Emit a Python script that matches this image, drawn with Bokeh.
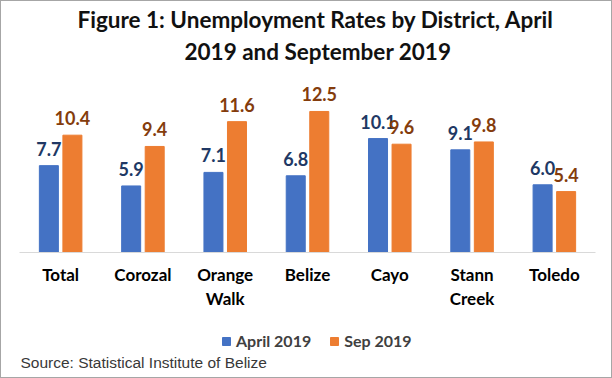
from bokeh.plotting import figure
from bokeh.layouts import column
from bokeh.core.properties import value
from bokeh.models import (Range1d, Title, Legend, LegendItem,
                          ColumnDataSource, LabelSet, LinearAxis, FixedTicker, Label)
from bokeh.transform import dodge
from bokeh.embed import file_html
from bokeh.resources import INLINE

# ---- data ----
districts = ["Total", "Corozal", "Orange Walk", "Belize", "Cayo", "Stann Creek", "Toledo"]
label_line1 = ["Total", "Corozal", "Orange", "Belize", "Cayo", "Stann", "Toledo"]
label_line2 = ["", "", "Walk", "", "", "Creek", ""]
april_2019 = [7.7, 5.9, 7.1, 6.8, 10.1, 9.1, 6.0]
sep_2019 = [10.4, 9.4, 11.6, 12.5, 9.6, 9.8, 5.4]
series_names = ["April 2019", "Sep 2019"]
title_line1 = "Figure 1: Unemployment Rates by District, April"
title_line2 = "2019 and September 2019"
source_note = "Source: Statistical Institute of Belize"

BLUE = "#4472C4"
ORANGE = "#ED7D31"
BLUE_TXT = "#203864"
ORANGE_TXT = "#843C0C"
FONT = "Lato"

n = len(districts)
centers = [i + 0.5 for i in range(n)]   # slot centre of each district on the x scale

src = ColumnDataSource(dict(
    district=districts,
    xc=centers,
    april=april_2019,
    sep=sep_2019,
    april_txt=[f"{v:.1f}" for v in april_2019],
    sep_txt=[f"{v:.1f}" for v in sep_2019],
))

W = 610
H1 = 310
BL, BR = 18, 16
p = figure(width=W, height=H1, output_backend="svg", toolbar_location=None,
           x_range=Range1d(0, n), y_range=Range1d(0, 16.31), x_axis_location=None,
           min_border_left=BL, min_border_right=BR, min_border_top=67, min_border_bottom=59)
p.background_fill_color = "white"
p.border_fill_color = "white"

off = 0.143
bw = 0.231
r1 = p.vbar(x=dodge("xc", -off), top="april", width=bw, source=src, color=BLUE)
r2 = p.vbar(x=dodge("xc", off), top="sep", width=bw, source=src, color=ORANGE)

for xo, col, txt, c in [(-off, "april", "april_txt", BLUE_TXT), (off, "sep", "sep_txt", ORANGE_TXT)]:
    p.add_layout(LabelSet(x=dodge("xc", xo), y=col, text=txt,
                          source=src, text_align="center", text_baseline="alphabetic",
                          y_offset=10, text_font=value(FONT), text_font_style=value("bold"),
                          text_font_size=value("18px"), text_color=value(c)))

def make_axis(labels, line_color, standoff):
    ax = LinearAxis(ticker=FixedTicker(ticks=centers),
                    major_label_overrides=dict(zip(centers, labels)))
    ax.axis_line_color = line_color
    ax.major_tick_line_color = None
    ax.minor_tick_line_color = None
    ax.major_tick_out = 0
    ax.major_tick_in = 0
    ax.minor_tick_out = 0
    ax.major_label_text_font = FONT
    ax.major_label_text_font_style = "bold"
    ax.major_label_text_font_size = "17px"
    ax.major_label_text_color = "#000000"
    ax.major_label_standoff = standoff
    return ax

p.add_layout(make_axis(label_line1, "#d9d9d9", 11), "below")
p.add_layout(make_axis(label_line2, None, 0), "below")

p.yaxis.visible = False
p.xgrid.grid_line_color = None
p.ygrid.grid_line_color = None
p.outline_line_color = None

# titles (first added sits closest to the plot)
p.add_layout(Title(text=title_line2, align="left", text_font=FONT, text_font_style="bold",
                   text_font_size="22.5px", text_color="#111111", standoff=7, offset=165), "above")
p.add_layout(Title(text=title_line1, align="left", text_font=FONT, text_font_style="bold",
                   text_font_size="22.5px", text_color="#111111", standoff=0, offset=58), "above")

# ---- bottom strip: legend and source (frame aligned with the chart frame) ----
H2 = 66
FW = W - BL - BR
p2 = figure(width=W, height=H2, output_backend="svg", toolbar_location=None,
            x_range=Range1d(0, FW), y_range=Range1d(H2, 0),
            x_axis_location=None, y_axis_location=None,
            min_border_left=BL, min_border_right=BR, min_border_top=0, min_border_bottom=0)
p2.xgrid.grid_line_color = None
p2.ygrid.grid_line_color = None
p2.outline_line_color = None
p2.border_fill_color = "white"
# legend keys: hidden copies of the two series
k1 = p2.vbar(x=dodge("xc", -off), top="april", width=bw, source=src, color=BLUE, visible=False)
k2 = p2.vbar(x=dodge("xc", off), top="sep", width=bw, source=src, color=ORANGE, visible=False)

legend = Legend(items=[LegendItem(label=series_names[0], renderers=[k1]),
                       LegendItem(label=series_names[1], renderers=[k2])],
                orientation="horizontal", location=(202, 27),
                label_text_font=FONT, label_text_font_style="bold",
                label_text_font_size="16px", label_text_color="#404040",
                glyph_width=10, glyph_height=10, label_height=18, spacing=18,
                label_standoff=5, border_line_color=None, background_fill_alpha=0,
                inactive_fill_alpha=0, padding=0, margin=0)
p2.add_layout(legend, "center")

p2.add_layout(Label(x=1, y=51, text=source_note, text_font="Liberation Sans",
                    text_font_size="15.5px", text_color="#383838",
                    text_baseline="alphabetic"))

layout = column(p, p2, styles={"border": "1px solid #a6a6a6"})
open("out.html", "w").write(file_html(layout, INLINE))
